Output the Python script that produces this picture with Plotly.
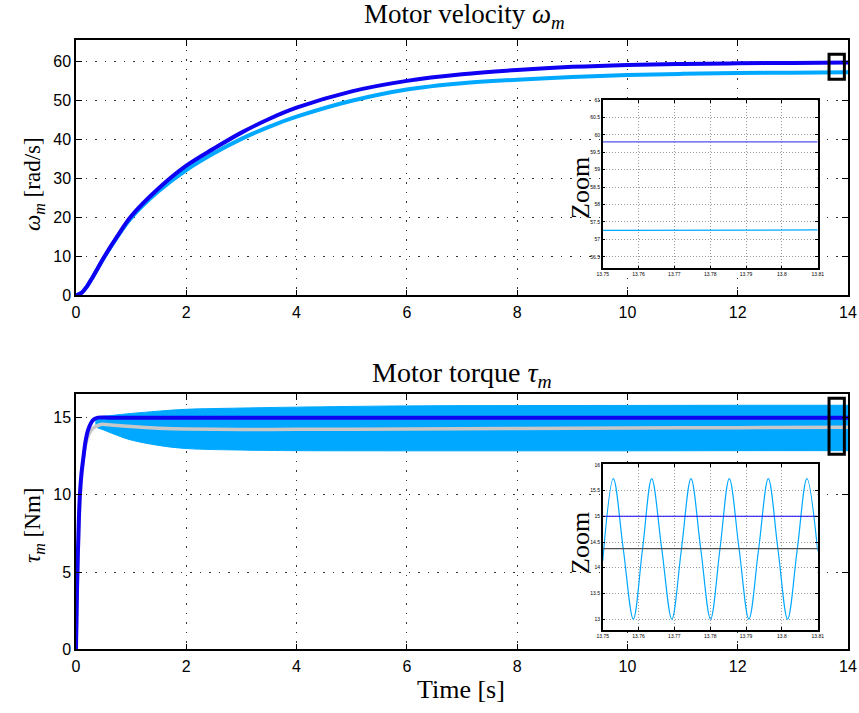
import plotly.graph_objects as go

# ---------------- data ----------------
# Motor velocity (top plot)
t_vel = [0, 0.1, 0.2, 0.3, 0.4, 0.5, 0.75, 1, 1.5, 2, 2.5, 3, 3.5, 4, 5, 6, 7, 8, 9, 10, 11, 12, 13, 14]
w_ref = [0, 0.6, 2.3, 4.6, 7.1, 9.6, 15.2, 20.3, 27.5, 33.3, 37.7, 41.8, 45.3, 48.2, 52.4, 55.1, 56.8, 57.9, 58.7, 59.2, 59.45, 59.6, 59.72, 59.8]
w_meas = [0, 0.6, 2.3, 4.6, 7.1, 9.5, 15.0, 19.9, 26.8, 32.2, 36.5, 40.2, 43.3, 45.9, 50.0, 52.9, 54.5, 55.4, 56.1, 56.6, 56.9, 57.1, 57.2, 57.3]

# Motor torque (bottom plot)
t_tau_ref = [0, 0.02, 0.05, 0.07, 0.1, 0.13, 0.17, 0.22, 0.28, 0.33, 0.4, 0.6, 14]
tau_ref = [0, 4.2, 8.2, 10.0, 11.4, 12.3, 13.4, 14.2, 14.7, 14.9, 15.0, 15.0, 15.0]

t_tau_mean = [0, 0.03, 0.07, 0.12, 0.2, 0.3, 0.45, 0.7, 1, 1.5, 2, 3, 4, 6, 8, 10, 12, 14]
tau_mean = [0, 5.0, 9.5, 12.0, 13.6, 14.3, 14.56, 14.5, 14.42, 14.32, 14.26, 14.23, 14.24, 14.27, 14.3, 14.33, 14.35, 14.37]

t_band = [0.35, 0.5, 0.75, 1, 1.5, 2, 3, 4, 6, 8, 10, 12, 14]
tau_upper = [15.0, 15.08, 15.18, 15.27, 15.42, 15.54, 15.62, 15.68, 15.76, 15.78, 15.79, 15.8, 15.8]
tau_lower = [14.4, 14.2, 13.85, 13.55, 13.2, 13.0, 12.9, 12.86, 12.85, 12.85, 12.85, 12.86, 12.86]

# Zoom insets
t_zoom_edges = [13.75, 13.81]
zoom_w_ref = [59.8, 59.8]
zoom_w_meas = [57.26, 57.27]
zoom_tau_ref = [15.0, 15.0]
zoom_tau_mean = [14.37, 14.37]
t_zoom_tau = [13.75, 13.75296, 13.75575, 13.75854, 13.76111, 13.76368, 13.76649, 13.7693,
              13.77197, 13.77464, 13.77737, 13.7801, 13.78272, 13.78533, 13.78807, 13.7908,
              13.79351, 13.79622, 13.79891, 13.8016, 13.8043, 13.8070, 13.81]
zoom_tau = [14.12, 15.73, 14.36, 13.0, 14.36, 15.73, 14.36, 13.0,
            14.36, 15.73, 14.36, 13.0, 14.36, 15.73, 14.36, 13.0,
            14.36, 15.73, 14.36, 13.0, 14.36, 15.73, 14.32]

x_ticks_main = [0, 2, 4, 6, 8, 10, 12, 14]
y_ticks_vel = [0, 10, 20, 30, 40, 50, 60]
y_ticks_tau = [0, 5, 10, 15]
x_ticks_zoom = [13.75, 13.76, 13.77, 13.78, 13.79, 13.80, 13.81]
x_ticklabels_zoom = ["13.75", "13.76", "13.77", "13.78", "13.79", "13.8", "13.81"]
y_ticks_zoom_vel = [56.5, 57, 57.5, 58, 58.5, 59, 59.5, 60, 60.5, 61]
y_ticks_zoom_tau = [13, 13.5, 14, 14.5, 15, 15.5, 16]

# ---------------- styling ----------------
W, H = 859, 713
BLUE = "#0f00f2"
LIGHT = "#00a8ff"
GRAY = "#c8c8c8"
DGRAY = "#505050"
SERIF = "Liberation Serif, Times New Roman, serif"
SANS = "Liberation Sans, Arial, sans-serif"


def fx(p):
    return p / W


def fy(p):
    return 1 - p / H


fig = go.Figure()

# top main
fig.add_trace(go.Scatter(x=t_vel, y=w_meas, xaxis="x", yaxis="y", mode="lines",
                         line=dict(color=LIGHT, width=4, shape="spline"), hoverinfo="skip"))
fig.add_trace(go.Scatter(x=t_vel, y=w_ref, xaxis="x", yaxis="y", mode="lines",
                         line=dict(color=BLUE, width=4, shape="spline"), hoverinfo="skip"))

# bottom main
fig.add_trace(go.Scatter(x=t_band, y=tau_lower, xaxis="x2", yaxis="y2", mode="lines",
                         line=dict(color=LIGHT, width=1, shape="spline"), hoverinfo="skip"))
fig.add_trace(go.Scatter(x=t_band, y=tau_upper, xaxis="x2", yaxis="y2", mode="lines",
                         line=dict(color=LIGHT, width=1, shape="spline"), fill="tonexty",
                         fillcolor=LIGHT, hoverinfo="skip"))
fig.add_trace(go.Scatter(x=t_tau_mean, y=tau_mean, xaxis="x2", yaxis="y2", mode="lines",
                         line=dict(color=GRAY, width=3.5, shape="spline", smoothing=0.6), hoverinfo="skip"))
fig.add_trace(go.Scatter(x=t_tau_ref, y=tau_ref, xaxis="x2", yaxis="y2", mode="lines",
                         line=dict(color=BLUE, width=4, shape="spline", smoothing=0.6), hoverinfo="skip"))

# top inset
fig.add_trace(go.Scatter(x=t_zoom_edges, y=zoom_w_ref, xaxis="x3", yaxis="y3", mode="lines",
                         line=dict(color="#5050f0", width=1.2), hoverinfo="skip"))
fig.add_trace(go.Scatter(x=t_zoom_edges, y=zoom_w_meas, xaxis="x3", yaxis="y3", mode="lines",
                         line=dict(color=LIGHT, width=1.2), hoverinfo="skip"))

# bottom inset
fig.add_trace(go.Scatter(x=t_zoom_tau, y=zoom_tau, xaxis="x4", yaxis="y4", mode="lines",
                         line=dict(color=LIGHT, width=1.2, shape="spline"), hoverinfo="skip"))
fig.add_trace(go.Scatter(x=t_zoom_edges, y=zoom_tau_ref, xaxis="x4", yaxis="y4", mode="lines",
                         line=dict(color=BLUE, width=1.2), hoverinfo="skip"))
fig.add_trace(go.Scatter(x=t_zoom_edges, y=zoom_tau_mean, xaxis="x4", yaxis="y4", mode="lines",
                         line=dict(color=DGRAY, width=1.2), hoverinfo="skip"))


def main_axis(**kw):
    d = dict(showline=True, linecolor="black", linewidth=1.5, mirror="ticks",
             ticks="inside", ticklen=6, tickwidth=1.2, tickcolor="black",
             showgrid=True, gridcolor="#333333", gridwidth=1, griddash="1.5px,8px",
             zeroline=False, automargin=False,
             tickfont=dict(family=SANS, size=16, color="black"))
    d.update(kw)
    return d


def inset_axis(**kw):
    d = dict(showline=True, linecolor="black", linewidth=1.5, mirror="ticks",
             ticks="inside", ticklen=3, tickwidth=1, tickcolor="black",
             showgrid=True, gridcolor="#9a9a9a", gridwidth=1, griddash="1px,2px",
             zeroline=False, automargin=False,
             tickfont=dict(family=SANS, size=5, color="black"))
    d.update(kw)
    return d


xdom = [fx(76), fx(848)]
fig.update_layout(
    template="none",
    width=W, height=H, autosize=False,
    margin=dict(l=0, r=0, t=0, b=0, pad=0, autoexpand=False),
    paper_bgcolor="white", plot_bgcolor="white",
    showlegend=False,
    xaxis=main_axis(domain=xdom, range=[0, 14], anchor="y", tickvals=x_ticks_main,
                    ticklabelstandoff=2),
    yaxis=main_axis(domain=[fy(295.3), fy(40)], range=[0, 65.6], anchor="x", tickvals=y_ticks_vel),
    xaxis2=main_axis(domain=xdom, range=[0, 14], anchor="y2", tickvals=x_ticks_main,
                     ticklabelstandoff=2),
    yaxis2=main_axis(domain=[fy(649.3), fy(394)], range=[0, 16.53], anchor="x2", tickvals=y_ticks_tau),
    xaxis3=inset_axis(domain=[fx(602.7), fx(817.7)], range=[13.75, 13.81], anchor="y3",
                      tickvals=x_ticks_zoom, ticktext=x_ticklabels_zoom),
    yaxis3=inset_axis(domain=[fy(268.3), fy(100)], range=[56.17, 61], anchor="x3",
                      tickvals=y_ticks_zoom_vel),
    xaxis4=inset_axis(domain=[fx(602.7), fx(817.7)], range=[13.75, 13.81], anchor="y4",
                      tickvals=x_ticks_zoom, ticktext=x_ticklabels_zoom),
    yaxis4=inset_axis(domain=[fy(630), fy(464.3)], range=[12.79, 16.01], anchor="x4",
                      tickvals=y_ticks_zoom_tau),
)

# zoom marker rectangles
fig.add_shape(type="rect", xref="x", yref="y", x0=13.656, x1=13.934, y0=55.49, y1=61.93,
              line=dict(color="black", width=3), layer="above")
fig.add_shape(type="rect", xref="x2", yref="y2", x0=13.656, x1=13.934, y0=12.63, y1=16.26,
              line=dict(color="black", width=3), layer="above")


def ann(text, x, y, size, angle=0):
    fig.add_annotation(text=text, xref="paper", yref="paper", x=x, y=y,
                       xanchor="center", yanchor="middle", showarrow=False,
                       textangle=angle, font=dict(family=SERIF, size=size, color="black"))


ann("Motor velocity <i>ω</i><sub><i>m</i></sub>", fx(464), fy(16), 27)
ann("Motor torque <i>τ</i><sub><i>m</i></sub>", fx(462), fy(375), 28)
ann("Time [s]", fx(461), fy(689), 26)
ann("<i>ω</i><sub><i>m</i></sub> [rad/s]", fx(34), fy(184), 23, -90)
ann("<i>τ</i><sub><i>m</i></sub> [Nm]", fx(34), fy(526), 23, -90)
ann("Zoom", fx(580), fy(188), 26, -90)
ann("Zoom", fx(580), fy(543), 26, -90)

# the page's default body margin would shift the figure; remove it
fig.write_html("out.html", config={"displayModeBar": False},
               post_script="document.body.style.margin='0px';")
